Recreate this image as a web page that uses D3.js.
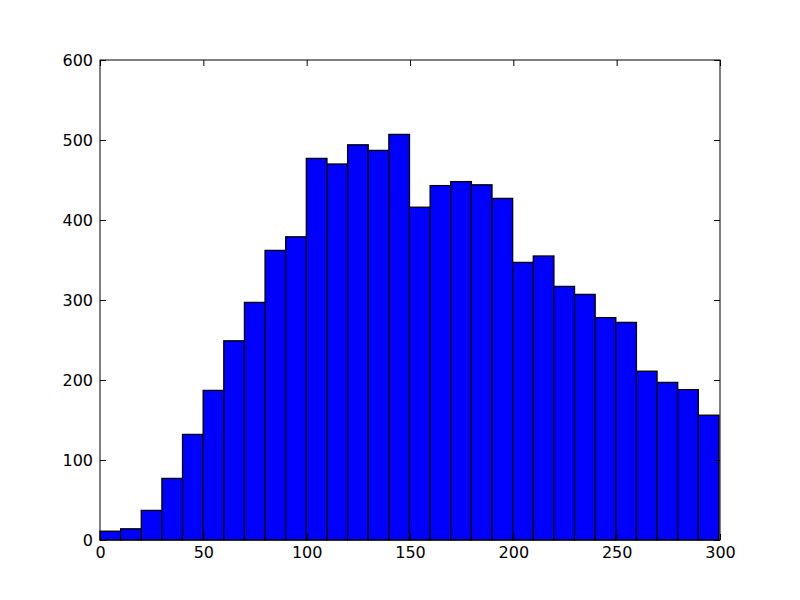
<!DOCTYPE html>
<html lang="en">
<head>
    <meta charset="UTF-8">
    <title>Histogram</title>
    <script src="https://d3js.org/d3.v7.min.js"></script>
    <style>
        body { margin: 0; background: white; }
        text { font-family: "DejaVu Sans", sans-serif; font-size: 16px; fill: black; }
    </style>
</head>
<body>
    <svg id="vis" width="800" height="600"></svg>
    <script>
        // histogram: 30 bins from 0 to ~299.5
        const binStart = 0;
        const binEnd = 299.5;
        const counts = [11, 14, 37, 77, 132, 187, 249, 297, 362, 379,
            477, 470, 494, 487, 507, 416, 443, 448, 444, 427,
            347, 355, 317, 307, 278, 272, 211, 197, 188, 156];
        const xTicks = [0, 50, 100, 150, 200, 250, 300];
        const yTicks = [0, 100, 200, 300, 400, 500, 600];

        const margin = { left: 100, top: 60, right: 80, bottom: 60 };
        const width = 800, height = 600;
        const svg = d3.select("#vis");

        const x = d3.scaleLinear().domain([0, 300]).range([margin.left, width - margin.right]);
        const y = d3.scaleLinear().domain([0, 600]).range([height - margin.bottom, margin.top]);

        const binW = (binEnd - binStart) / counts.length;
        const bins = counts.map((c, i) => ({ x0: binStart + i * binW, x1: binStart + (i + 1) * binW, n: c }));

        svg.append("g").selectAll("rect")
            .data(bins)
            .join("rect")
            .attr("x", d => x(d.x0))
            .attr("y", d => y(d.n))
            .attr("width", d => x(d.x1) - x(d.x0))
            .attr("height", d => y(0) - y(d.n))
            .attr("fill", "#0000ff")
            .attr("stroke", "black")
            .attr("stroke-width", 1.3);

        const tickLen = 6;
        // axes with inward ticks on all four sides
        svg.append("g").attr("transform", `translate(0,${y(0)})`)
            .call(d3.axisBottom(x).tickValues(xTicks).tickSize(-tickLen).tickPadding(7).tickFormat(d3.format("d")))
            .call(g => g.select(".domain").remove());
        svg.append("g").attr("transform", `translate(0,${y(600)})`)
            .call(d3.axisTop(x).tickValues(xTicks).tickSize(-tickLen).tickFormat(""))
            .call(g => g.select(".domain").remove());
        svg.append("g").attr("transform", `translate(${x(0)},0)`)
            .call(d3.axisLeft(y).tickValues(yTicks).tickSize(-tickLen).tickPadding(7).tickFormat(d3.format("d")))
            .call(g => g.select(".domain").remove());
        svg.append("g").attr("transform", `translate(${x(300)},0)`)
            .call(d3.axisRight(y).tickValues(yTicks).tickSize(-tickLen).tickFormat(""))
            .call(g => g.select(".domain").remove());

        svg.selectAll(".tick line").attr("stroke", "black");
        svg.selectAll(".tick text").style("font-size", "16px").attr("fill", "black");

        svg.append("rect")
            .attr("x", x(0)).attr("y", y(600))
            .attr("width", x(300) - x(0)).attr("height", y(0) - y(600))
            .attr("fill", "none").attr("stroke", "black").attr("stroke-width", 1);
    </script>
</body>
</html>
